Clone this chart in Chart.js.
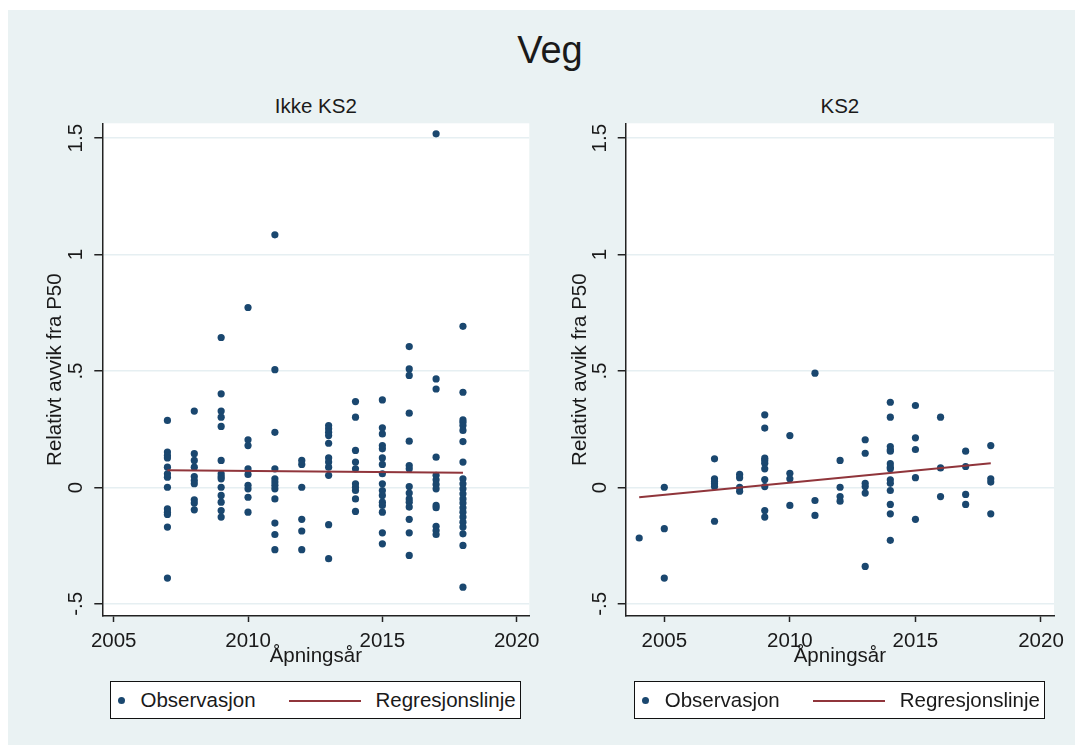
<!DOCTYPE html>
<html>
<head>
<meta charset="utf-8">
<script src="https://cdn.jsdelivr.net/npm/chart.js@4/dist/chart.umd.min.js"></script>
<style>
  html, body { margin:0; padding:0; }
  body { width:1080px; height:749px; position:relative; overflow:hidden; background:#ffffff;
         font-family:"Liberation Sans", Arial, sans-serif; color:#1a1a1a; }
  #frame { position:absolute; left:8px; top:10px; width:1067px; height:735px; background:#eaf2f3; }
  canvas { position:absolute; top:0; }
  .txt { position:absolute; white-space:nowrap; line-height:1; }
  .legend { position:absolute; top:681px; height:36px; width:409px; border:1.5px solid #111;
            background:#ffffff; overflow:hidden; }
  .legend .dot { position:absolute; left:7.5px; top:14.5px; width:7px; height:7px; border-radius:50%; background:#1a476f; }
  .legend .ln { position:absolute; left:178px; top:17.5px; width:72px; height:2px; background:#90353b; }
  .legend .t1 { position:absolute; left:30px; top:8px; font-size:20.5px; line-height:1; }
  .legend .t2 { position:absolute; left:265px; top:8px; font-size:20.5px; line-height:1; }
</style>
</head>
<body>
<div id="frame"></div>
<div class="txt" style="left:0; width:1100px; text-align:center; top:31px; font-size:38px;">Veg</div>
<div class="txt" style="left:215.8px; width:200px; text-align:center; top:96px; font-size:20.5px;">Ikke KS2</div>
<div class="txt" style="left:739.9px; width:200px; text-align:center; top:96px; font-size:20.5px;">KS2</div>
<canvas id="cLeft" width="580" height="749" style="left:0;"></canvas>
<canvas id="cRight" width="580" height="749" style="left:540px;"></canvas>
<div class="legend" style="left:109.5px;"><div class="dot"></div><div class="t1">Observasjon</div><div class="ln"></div><div class="t2">Regresjonslinje</div></div>
<div class="legend" style="left:633.7px;"><div class="dot"></div><div class="t1">Observasjon</div><div class="ln"></div><div class="t2">Regresjonslinje</div></div>
<script>
// ---------- DATA ----------
const xTickValues = [2005, 2010, 2015, 2020];
const xTickLabels = ["2005", "2010", "2015", "2020"];
const yTickValues = [-0.5, 0, 0.5, 1, 1.5];
const yTickLabels = ["-.5", "0", ".5", "1", "1.5"];

// Ikke KS2 panel
const ikkeYears = [2007, 2008, 2009, 2010, 2011, 2012, 2013, 2014, 2015, 2016, 2017, 2018];
const ikkeValues = [
  [0.288, 0.152, 0.137, 0.127, 0.087, 0.059, 0.044, 0.001, -0.092, -0.106, -0.116, -0.170, -0.389],
  [0.328, 0.145, 0.116, 0.087, 0.047, 0.030, 0.016, -0.053, -0.067, -0.096],
  [0.644, 0.402, 0.328, 0.302, 0.262, 0.116, 0.059, 0.047, 0.037, 0.001, -0.034, -0.063, -0.099, -0.127],
  [0.773, 0.205, 0.180, 0.080, 0.056, 0.009, -0.006, -0.042, -0.106],
  [1.085, 0.506, 0.237, 0.080, 0.037, 0.023, 0.009, -0.006, -0.049, -0.153, -0.202, -0.267],
  [0.116, 0.099, 0.001, -0.137, -0.187, -0.267],
  [0.266, 0.252, 0.237, 0.223, 0.190, 0.127, 0.109, 0.087, 0.052, -0.160, -0.306],
  [0.369, 0.302, 0.159, 0.109, 0.080, 0.016, 0.001, -0.013, -0.049, -0.103],
  [0.376, 0.256, 0.230, 0.180, 0.166, 0.127, 0.099, 0.059, 0.016, -0.013, -0.034, -0.063, -0.077, -0.106, -0.195, -0.242],
  [0.605, 0.509, 0.481, 0.319, 0.199, 0.094, 0.080, 0.004, -0.024, -0.049, -0.063, -0.084, -0.137, -0.195, -0.292],
  [1.519, 0.466, 0.423, 0.130, 0.052, 0.033, 0.013, -0.006, -0.077, -0.087, -0.167, -0.185, -0.202],
  [0.692, 0.409, 0.290, 0.280, 0.266, 0.245, 0.197, 0.109, 0.037, 0.016, -0.006, -0.027, -0.049, -0.067, -0.087, -0.106, -0.127, -0.149, -0.170, -0.199, -0.249, -0.428]
];
const ikkeRegX = [2007, 2018];
const ikkeRegY = [0.074, 0.063];

// KS2 panel
const ks2Years = [2004, 2005, 2007, 2008, 2009, 2010, 2011, 2012, 2013, 2014, 2015, 2016, 2017, 2018];
const ks2Values = [
  [-0.217],
  [0.001, -0.177, -0.389],
  [0.123, 0.037, 0.026, 0.016, 0.004, -0.145],
  [0.056, 0.042, 0.001, -0.016],
  [0.312, 0.255, 0.126, 0.116, 0.104, 0.080, 0.034, 0.004, -0.099, -0.127],
  [0.223, 0.061, 0.037, -0.077],
  [0.491, -0.056, -0.120],
  [0.116, 0.001, -0.039, -0.059],
  [0.205, 0.147, 0.018, 0.004, -0.024, -0.339],
  [0.366, 0.302, 0.176, 0.162, 0.156, 0.102, 0.087, 0.080, 0.033, 0.018, -0.013, -0.073, -0.113, -0.227],
  [0.352, 0.213, 0.163, 0.042, -0.137],
  [0.302, 0.084, -0.039],
  [0.156, 0.090, -0.030, -0.073],
  [0.180, 0.037, 0.023, -0.113]
];
const ks2RegX = [2004, 2018];
const ks2RegY = [-0.042, 0.104];

// ---------- CHARTS ----------
const FONT = '"Liberation Sans", Arial, sans-serif';
const TXT = '#1a1a1a';

const plotBg = {
  id: 'plotBg',
  beforeDraw(chart) {
    const a = chart.chartArea, ctx = chart.ctx;
    ctx.save();
    ctx.fillStyle = '#ffffff';
    ctx.fillRect(a.left, a.top, a.right - a.left, a.bottom - a.top);
    ctx.restore();
  }
};

function toPoints(years, values) {
  const pts = [];
  years.forEach((yr, i) => values[i].forEach(v => pts.push({ x: yr, y: v })));
  return pts;
}

function makePanel(id, years, values, regX, regY, cfg) {
  new Chart(document.getElementById(id), {
    type: 'scatter',
    data: {
      datasets: [
        {
          type: 'line', label: 'Regresjonslinje', order: 0,
          data: regX.map((x, i) => ({ x: x, y: regY[i] })),
          borderColor: '#90353b', borderWidth: 2, pointRadius: 0, fill: false, tension: 0
        },
        {
          label: 'Observasjon', order: 1,
          data: toPoints(years, values),
          backgroundColor: '#1a476f', borderWidth: 0, pointRadius: 3.6, pointHoverRadius: 3.6
        }
      ]
    },
    options: {
      responsive: false, animation: false, events: [],
      layout: { padding: { left: 0, top: 123.3, right: cfg.padRight, bottom: 69 } },
      plugins: { legend: { display: false }, tooltip: { enabled: false }, title: { display: false } },
      scales: {
        x: {
          type: 'linear', min: cfg.xMin, max: cfg.xMax,
          afterBuildTicks: s => { s.ticks = xTickValues.map(v => ({ value: v })); },
          afterFit: s => { s.height = 64; },
          grid: { drawOnChartArea: false, drawTicks: true, tickLength: 6, tickColor: '#222', tickWidth: 1.5 },
          border: { display: true, color: '#222', width: 1.5 },
          ticks: { autoSkip: false, minRotation: 0, maxRotation: 0, padding: 6.7, color: TXT,
                   font: { family: FONT, size: 20.5 }, callback: (v, i) => xTickLabels[i] },
          title: { display: true, text: 'Åpningsår', color: TXT, font: { family: FONT, size: 20.5 },
                   padding: { top: 0, bottom: 11.2 } }
        },
        y: {
          type: 'linear', min: -0.552, max: 1.564,
          afterBuildTicks: s => { s.ticks = yTickValues.map(v => ({ value: v })); },
          afterFit: s => { s.width = cfg.yWidth; },
          grid: { color: '#e6eff2', lineWidth: 1.5, drawTicks: true, tickLength: 8, tickColor: '#222', tickWidth: 1.5 },
          border: { display: true, color: '#222', width: 1.5 },
          ticks: { autoSkip: false, minRotation: 90, maxRotation: 90, crossAlign: 'center', padding: 3.4, color: TXT,
                   font: { family: FONT, size: 20.5 }, callback: (v, i) => yTickLabels[i] },
          title: { display: true, text: 'Relativt avvik fra P50', color: TXT, font: { family: FONT, size: 20.5 },
                   padding: { top: cfg.yTitlePad, bottom: 0 } }
        }
      }
    },
    plugins: [plotBg]
  });
}

makePanel('cLeft', ikkeYears, ikkeValues, ikkeRegX, ikkeRegY,
  { xMin: 2004.576, xMax: 2020.469, padRight: 50.7, yWidth: 102.3, yTitlePad: 42.7 });
makePanel('cRight', ks2Years, ks2Values, ks2RegX, ks2RegY,
  { xMin: 2003.463, xMax: 2020.518, padRight: 66, yWidth: 85.7, yTitlePad: 28.1 });
</script>
</body>
</html>
